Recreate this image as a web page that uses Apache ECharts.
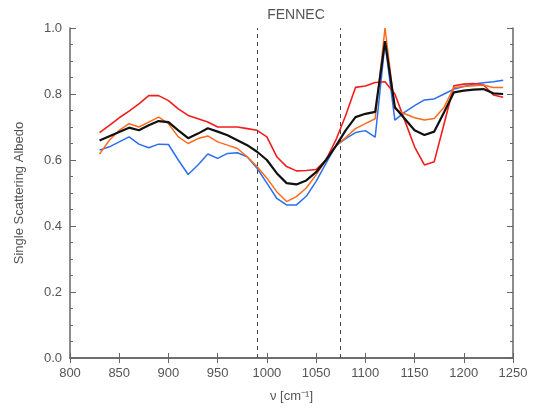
<!DOCTYPE html>
<html>
<head>
<meta charset="utf-8">
<script src="https://cdn.jsdelivr.net/npm/echarts@6/dist/echarts.min.js"></script>
<style>
  html, body { margin: 0; padding: 0; background: #fff; }
  #chart { width: 539px; height: 412px; }
</style>
</head>
<body>
<div id="chart"></div>
<script>
// wavenumber grid (cm-1)
var wavenumbers = [830, 840, 850, 860, 870, 880, 890, 900, 910, 920, 930, 940, 950, 960, 970, 980, 990,
  1000, 1010, 1020, 1030, 1040, 1050, 1060, 1070, 1080, 1090, 1100, 1110, 1120, 1130, 1140, 1150,
  1160, 1170, 1180, 1190, 1200, 1210, 1220, 1230, 1240];

var redValues = [0.683, 0.705, 0.728, 0.748, 0.77, 0.795, 0.795, 0.78, 0.755, 0.735, 0.725, 0.715, 0.70,
  0.70, 0.70, 0.695, 0.69, 0.67, 0.61, 0.58, 0.567, 0.568, 0.571, 0.60, 0.66, 0.735, 0.82, 0.824,
  0.835, 0.837, 0.80, 0.72, 0.64, 0.585, 0.595, 0.71, 0.825, 0.83, 0.832, 0.828, 0.797, 0.79];

var orangeValues = [0.618, 0.66, 0.69, 0.71, 0.70, 0.715, 0.73, 0.71, 0.67, 0.65, 0.665, 0.673, 0.655,
  0.645, 0.635, 0.61, 0.58, 0.545, 0.504, 0.474, 0.489, 0.515, 0.555, 0.60, 0.642, 0.668, 0.695,
  0.71, 0.725, 1.0, 0.755, 0.74, 0.728, 0.721, 0.726, 0.76, 0.82, 0.823, 0.825, 0.827, 0.82, 0.82];

var blueValues = [0.63, 0.64, 0.655, 0.67, 0.648, 0.637, 0.648, 0.647, 0.60, 0.556, 0.585, 0.618, 0.605,
  0.62, 0.622, 0.61, 0.575, 0.53, 0.484, 0.464, 0.464, 0.49, 0.535, 0.59, 0.643, 0.665, 0.683,
  0.689, 0.669, 0.955, 0.721, 0.745, 0.765, 0.782, 0.785, 0.80, 0.815, 0.823, 0.83, 0.834, 0.837, 0.842];

var blackValues = [0.659, 0.672, 0.685, 0.698, 0.69, 0.705, 0.718, 0.715, 0.69, 0.666, 0.68, 0.696, 0.686,
  0.675, 0.66, 0.645, 0.625, 0.60, 0.56, 0.53, 0.526, 0.538, 0.563, 0.60, 0.642, 0.69, 0.73, 0.74,
  0.746, 0.96, 0.76, 0.725, 0.69, 0.676, 0.686, 0.745, 0.805, 0.81, 0.813, 0.815, 0.802, 0.80];

// dashed vertical markers
var markerLines = [990, 1075];

function pairs(vals) {
  var out = [];
  for (var i = 0; i < wavenumbers.length; i++) out.push([wavenumbers[i], vals[i]]);
  return out;
}

var axisColor = '#666';
var textColor = '#555';
var fontFamily = 'Liberation Sans, Arial, sans-serif';

var chart = echarts.init(document.getElementById('chart'));

function lineSeries(vals, color, width, z) {
  return {
    type: 'line',
    data: pairs(vals),
    showSymbol: false,
    symbol: 'none',
    z: z,
    lineStyle: { color: color, width: width },
    animation: false
  };
}

var series = [
  lineSeries(blueValues, '#2b6ef2', 1.5, 2),
  lineSeries(redValues, '#f41d1d', 1.6, 3),
  lineSeries(orangeValues, '#ff6a1c', 1.5, 4),
  lineSeries(blackValues, '#111', 2.2, 5)
];
series[0].markLine = {
  silent: true,
  symbol: 'none',
  label: { show: false },
  lineStyle: { color: '#444', type: [4, 4], width: 1 },
  data: markerLines.map(function (v) { return { xAxis: v }; }),
  animation: false
};

chart.setOption({
  backgroundColor: '#fff',
  title: {
    text: 'FENNEC',
    left: 291,
    textAlign: 'center',
    top: 3,
    textStyle: { color: textColor, fontSize: 14, fontWeight: 'normal', fontFamily: fontFamily }
  },
  grid: { left: 70, right: 26, top: 28, bottom: 54 },
  xAxis: [{
    type: 'value',
    min: 800, max: 1250, interval: 50,
    name: 'ν [cm⁻¹]',
    nameLocation: 'middle',
    nameGap: 32,
    nameTextStyle: { color: textColor, fontSize: 13, fontFamily: fontFamily },
    axisLine: { lineStyle: { color: axisColor, width: 1.5 } },
    axisTick: { inside: true, length: 5, lineStyle: { color: axisColor } },
    axisLabel: { color: textColor, fontSize: 13, margin: 9, fontFamily: fontFamily,
      formatter: function (v) { return String(v); } },
    splitLine: { show: false }
  }, {
    type: 'value',
    position: 'top',
    min: 800, max: 1250, interval: 50,
    axisLine: { show: true, lineStyle: { color: axisColor, width: 1.5 } },
    axisTick: { inside: true, length: 5, lineStyle: { color: axisColor } },
    axisLabel: { show: false },
    splitLine: { show: false }
  }],
  yAxis: [{
    type: 'value',
    min: 0, max: 1, interval: 0.2,
    name: 'Single Scattering Albedo',
    nameLocation: 'middle',
    nameGap: 44,
    nameTextStyle: { color: textColor, fontSize: 13, fontFamily: fontFamily },
    axisLine: { show: true, lineStyle: { color: axisColor, width: 1.5 } },
    axisTick: { inside: true, length: 6, lineStyle: { color: axisColor } },
    minorTick: { show: true, splitNumber: 4, length: 3, lineStyle: { color: axisColor } },
    axisLabel: { color: textColor, fontSize: 13, margin: 8, fontFamily: fontFamily,
      formatter: function (v) { return v.toFixed(1); } },
    splitLine: { show: false }
  }, {
    type: 'value',
    position: 'right',
    min: 0, max: 1, interval: 0.2,
    axisLine: { show: true, lineStyle: { color: axisColor, width: 1.5 } },
    axisTick: { inside: true, length: 6, lineStyle: { color: axisColor } },
    minorTick: { show: true, splitNumber: 4, length: 3, lineStyle: { color: axisColor } },
    axisLabel: { show: false },
    splitLine: { show: false }
  }],
  series: series
});
</script>
</body>
</html>
